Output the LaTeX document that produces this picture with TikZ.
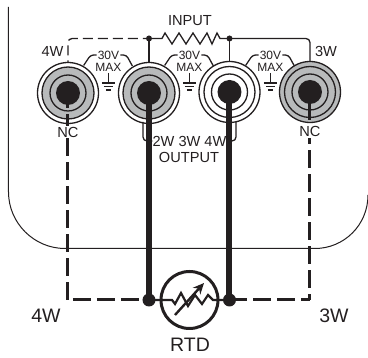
\documentclass[tikz,border=0pt]{standalone}
\usepackage{fontspec}
\setmainfont{Liberation Sans}
\usetikzlibrary{arrows.meta,positioning,calc}
\definecolor{inkcolor}{RGB}{35,31,32}
\definecolor{ringcolor}{RGB}{184,186,187}

\begin{document}
\begin{tikzpicture}[
    x=1pt, y=-1pt,
    inkcolor,
    disc/.style={circle, draw=inkcolor, line width=1.3pt, inner sep=0pt, outer sep=0pt, minimum size=#1},
    stud/.style={circle, fill=inkcolor, inner sep=0pt, outer sep=0pt, minimum size=24pt},
    dot/.style={circle, fill=inkcolor, inner sep=0pt, outer sep=0pt, minimum size=#1},
    thinwire/.style={line width=1.3pt},
    fatwire/.style={line width=6pt},
    dashwire/.style={line width=3pt, dash pattern=on 18pt off 6pt},
    toplabel/.style={font=\fontsize{14.6}{16}\selectfont, inner sep=0pt},
    ratelabel/.style={font=\fontsize{12}{13}\selectfont, inner sep=1pt},
    biglabel/.style={font=\fontsize{19.5}{21}\selectfont, inner sep=0pt}
]
\useasboundingbox (0,0) rectangle (368,358);

% Panel
\draw[line width=1pt] (8.5,7) -- (8.5,192) .. controls (8.5,223) and (34,248.5) .. (65,248.5)
    -- (315,248.5) .. controls (344,248.5) and (368,225) .. (368,195);

% Terminals
\node[disc=61pt, fill=white] (term1) at (68,93) {};
\node[disc=52pt, fill=ringcolor] at (term1) {};
\node[disc=36pt] at (term1) {};
\node[stud] (stud1) at (term1) {};

\node[disc=61pt, fill=white] (term2) at (149,93) {};
\node[disc=52pt, fill=ringcolor] at (term2) {};
\node[disc=36pt] at (term2) {};
\node[stud] (stud2) at (term2) {};

\node[disc=61pt, fill=white] (term3) at (229.5,92) {};
\node[disc=51pt] at (term3) {};
\node[disc=36pt] at (term3) {};
\node[stud] (stud3) at (term3) {};

\node[disc=61pt, fill=ringcolor] (term4) at (310,92) {};
\node[disc=51pt] at (term4) {};
\node[disc=36pt] at (term4) {};
\node[stud] (stud4) at (term4) {};

% Input resistor
\node[dot=6pt] (inleft) at (149,38.5) {};
\node[dot=6pt] (inright) at (229.5,38.5) {};
\draw[thinwire] (inleft.center) -- (162,38.5) -- (165,33) -- (172,44) -- (179,33) -- (186,44)
    -- (193,33) -- (200,44) -- (207,33) -- (212,44) -- (217,33) -- (220,38.5) -- (inright.center);
\draw[thinwire] (inleft.center) -- (term2.north);
\draw[thinwire] (inright.center) -- (term3.north);
\draw[thinwire, rounded corners=4pt] (inright.center) -| (term4.north);
\draw[thinwire, dash pattern=on 10pt off 5pt, dash phase=4pt, rounded corners=4pt] (inleft.center) -| (term1.north);

% Ratings
\foreach \n/\x in {1/108.5, 2/189.5, 3/270.5} {
    \node[ratelabel] (volt\n) at (\x,55) {30V};
    \node[ratelabel] (max\n) at (\x,67.5) {MAX};
    \draw[thinwire, rounded corners=3pt] (volt\n.west) -- ++(-6,0) -- ++(-7,10.5);
    \draw[thinwire, rounded corners=3pt] (volt\n.east) -- ++(6,0) -- ++(6,11);
    \coordinate (gnd\n) at (\x,83);
    \draw[thinwire] (max\n.south) -- (gnd\n);
    \draw[thinwire] ($(gnd\n)+(-6.5,0)$) -- ($(gnd\n)+(6.5,0)$);
    \draw[thinwire] ($(gnd\n)+(-4.5,3.5)$) -- ($(gnd\n)+(4.5,3.5)$);
    \draw[thinwire] ($(gnd\n)+(-2.5,7)$) -- ($(gnd\n)+(2.5,7)$);
}

% Output bracket
\node[toplabel] (outw) at (189.5,141) {2W 3W 4W};
\node[toplabel] (outp) at (189,157) {OUTPUT};
\draw[thinwire, rounded corners=4pt] (143,122) |- (outw.west);
\draw[thinwire, rounded corners=4pt] (236,122) |- (outw.east);

% RTD
\node[dot=13pt] (rtdleft) at (149,300) {};
\node[dot=13pt] (rtdright) at (229.5,300) {};
\node[circle, draw=inkcolor, line width=3pt, inner sep=0pt, outer sep=0pt, minimum size=57pt] (rtd) at (189.5,300) {};
\draw[line width=2.2pt] (rtdleft.center) -- (172,300) -- (175,304) -- (181,293) -- (188,306) -- (195,295)
    -- (202,304) -- (208,295) -- (213,300) -- (rtdright.center);
\coordinate (slidefoot) at (175,315);
\coordinate (slidetip) at (204,283);
\draw[line width=2.4pt, -{Stealth[length=11pt,width=10pt]}] (slidefoot) -- (slidetip);

% Field wires
\draw[fatwire] (stud2.center) -- (rtdleft.center);
\draw[fatwire] (stud3.center) -- (rtdright.center);
\coordinate (corner4) at (68,300);
\coordinate (corner3) at (310,300);
\draw[dashwire] (corner4) -- (stud1.center);
\draw[dashwire, dash phase=12pt] (corner3) -- (stud4.center);
\draw[dashwire, dash phase=19pt] (corner4) -- (rtdleft.center);
\draw[dashwire, dash phase=9pt] (corner3) -- (rtdright.center);

% Labels
\node[toplabel] (input) at (190,21) {INPUT};
\node[toplabel] (four) at (52.5,51.5) {4W};
\node[toplabel] (three) at (326,51.5) {3W};
\node[toplabel, fill=white, inner ysep=1pt] (nc1) at (68,132) {NC};
\node[toplabel, fill=white, inner ysep=1pt] (nc4) at (310,131.5) {NC};
\node[biglabel] (bigfour) at (46,316) {4W};
\node[biglabel] (bigthree) at (334,316) {3W};
\node[biglabel] (rtdname) at (190,345) {RTD};

\end{tikzpicture}
\end{document}
